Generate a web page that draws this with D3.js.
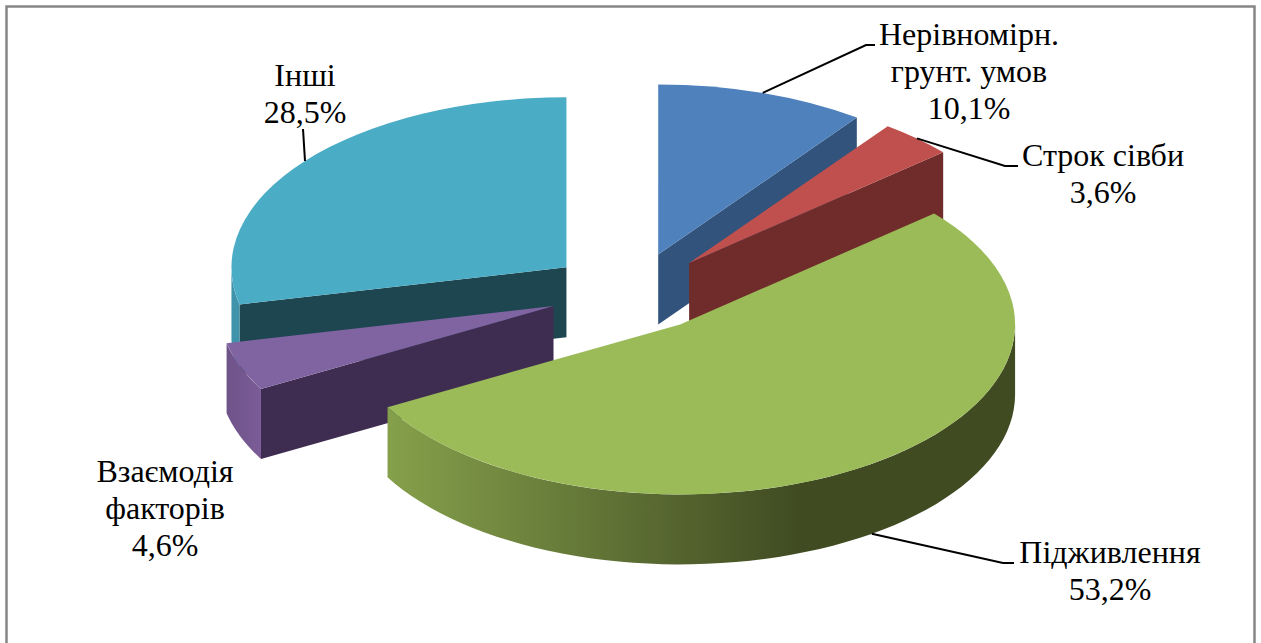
<!DOCTYPE html>
<html lang="uk">

<head>
    <meta charset="UTF-8">
    <script src="https://d3js.org/d3.v7.min.js"></script>
    <title>Фактори</title>
    <style>
        body { margin: 0; background: #fff; }
        svg { display: block; }
        text { font-family: "Liberation Serif", serif; font-size: 32px; fill: #000; text-anchor: middle; }
    </style>
</head>

<body>
    <div id="viz"></div>

    <script>
        const categories = [["Нерівномірн.", "грунт. умов"], ["Строк сівби"], ["Підживлення"], ["Взаємодія", "факторів"], ["Інші"]]
        const shares = [10.1, 3.6, 53.2, 4.6, 28.5]
        const shareLabels = ["10,1%", "3,6%", "53,2%", "4,6%", "28,5%"]

        const topColors = ["#4f81bd", "#c0504d", "#9bbb59", "#8064a2", "#4bacc6"]
        const faceColors = ["#31537c", "#6f2c2a", "#404b22", "#3e2d50", "#1e4651"]
        const wallStops = [
            ["#31537c", "#31537c"],
            ["#6f2c2a", "#6f2c2a"],
            ["#85a04b", "#404b22"],
            ["#6e5389", "#7b5c97"],
            ["#3f93ab", "#3f93ab"]
        ]

        // where each label sits: centre x, first baseline, elbow of the leader line
        const labelSpots = [
            {x: 969, y: 45, elbow: [[866, 45], [875, 45]]},
            {x: 1103, y: 166, elbow: [[1005, 166], [1018, 166]]},
            {x: 1110, y: 563, elbow: [[1003, 563], [1014, 563]]},
            {x: 165, y: 482, elbow: null},
            {x: 305, y: 86, elbow: [[303, 129]]}
        ]

        const width = 1261
        const height = 643
        const center = {x: 632, y: 292}
        const rx = 335
        const ry = 170
        const depth = 70
        const explodeX = 84
        const explodeY = 39.5
        const lineGap = 37

        const svg = d3.select("#viz")
            .append("svg")
            .attr("width", width)
            .attr("height", height)

        // frame runs off the bottom edge of the page
        svg.append("rect")
            .attr("x", 6.5)
            .attr("y", 6.5)
            .attr("width", 1248)
            .attr("height", 660)
            .attr("fill", "#fff")
            .attr("stroke", "#868686")
            .attr("stroke-width", 2.5)

        const slices = d3.pie().sort(null)(shares).map((d, i) => {
            const mid = (d.startAngle + d.endAngle) / 2
            return {
                ...d,
                i: i,
                mid: mid,
                cx: center.x + explodeX * Math.sin(mid),
                cy: center.y - explodeY * Math.cos(mid)
            }
        })

        const rimX = (d, a) => d.cx + rx * Math.sin(a)
        const rimY = (d, a) => d.cy - ry * Math.cos(a)

        const arc = d3.arc().innerRadius(0).outerRadius(rx)
        const polygon = d3.line()

        const defs = svg.append("defs")

        // outer wall of a slice, only the part facing the viewer
        function wallPoints(d) {
            const a0 = Math.max(d.startAngle, Math.PI / 2)
            const a1 = Math.min(d.endAngle, Math.PI * 3 / 2)
            if (a1 <= a0) return null
            const steps = d3.range(0, 61).map(k => a0 + (a1 - a0) * k / 60)
            const upper = steps.map(a => [rimX(d, a), rimY(d, a)])
            const lower = steps.slice().reverse().map(a => [rimX(d, a), rimY(d, a) + depth])
            return upper.concat(lower)
        }

        function facePoints(d, a) {
            const x = rimX(d, a)
            const y = rimY(d, a)
            return [[d.cx, d.cy], [x, y], [x, y + depth], [d.cx, d.cy + depth]]
        }

        // back slices first so the front ones cover them
        const ordered = slices.slice().sort((a, b) => a.cy - b.cy)

        ordered.forEach(d => {
            const g = svg.append("g")

            if (d.startAngle > Math.PI) {
                g.append("path")
                    .attr("d", polygon(facePoints(d, d.startAngle)) + "Z")
                    .attr("fill", faceColors[d.i])
            }
            if (d.endAngle < Math.PI) {
                g.append("path")
                    .attr("d", polygon(facePoints(d, d.endAngle)) + "Z")
                    .attr("fill", faceColors[d.i])
            }

            const wall = wallPoints(d)
            if (wall) {
                const xs = d3.extent(wall, p => p[0])
                const grad = defs.append("linearGradient")
                    .attr("id", "wall" + d.i)
                    .attr("gradientUnits", "userSpaceOnUse")
                    .attr("x1", d3.min(xs))
                    .attr("x2", d.i === 2 ? 800 : d3.max(xs))
                    .attr("y1", 0)
                    .attr("y2", 0)
                grad.append("stop").attr("offset", 0).attr("stop-color", wallStops[d.i][0])
                grad.append("stop").attr("offset", 1).attr("stop-color", wallStops[d.i][1])
                g.append("path")
                    .attr("d", polygon(wall) + "Z")
                    .attr("fill", `url(#wall${d.i})`)
            }

            g.append("path")
                .attr("transform", `translate(${d.cx},${d.cy}) scale(1,${ry / rx})`)
                .attr("d", arc(d))
                .attr("fill", topColors[d.i])
        })

        // leader lines start on the rim at the slice's middle angle
        slices.forEach(d => {
            const spot = labelSpots[d.i]
            if (!spot.elbow) return
            const onWall = d.mid > Math.PI / 2 && d.mid < Math.PI * 3 / 2
            const start = [rimX(d, d.mid), rimY(d, d.mid) + (onWall ? depth : 0)]
            svg.append("path")
                .attr("d", polygon([start].concat(spot.elbow)))
                .attr("fill", "none")
                .attr("stroke", "#000")
                .attr("stroke-width", 2)
        })

        slices.forEach(d => {
            const spot = labelSpots[d.i]
            categories[d.i].concat(shareLabels[d.i]).forEach((line, k) => {
                svg.append("text")
                    .attr("x", spot.x)
                    .attr("y", spot.y + k * lineGap)
                    .text(line)
            })
        })
    </script>
</body>

</html>
